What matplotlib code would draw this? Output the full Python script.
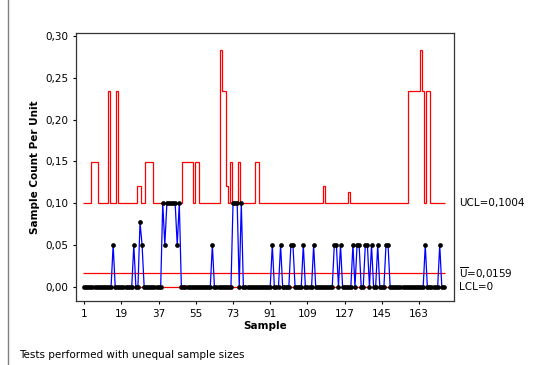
import numpy as np
import matplotlib.pyplot as plt
from matplotlib.lines import Line2D

# sample size (units inspected) for samples 1..175
sample_size = [
    20, 20, 20, 20, 8, 8, 8, 20, 20, 20, 20, 20, 3, 20, 20, 20, 3, 20, 20, 20, 20, 20, 20, 20, 20,
    20, 13, 13, 20, 20, 8, 8, 8, 8, 20, 20, 20, 20, 20, 20, 20, 20, 20, 20, 20, 20, 20, 20, 8, 8,
    8, 8, 8, 20, 8, 8, 20, 20, 20, 20, 20, 20, 20, 20, 20, 20, 2, 3, 3, 13, 20, 8, 20, 20, 20,
    8, 20, 20, 20, 20, 20, 20, 20, 8, 8, 20, 20, 20, 20, 20, 20, 20, 20, 20, 20, 20, 20, 20, 20, 20,
    20, 20, 20, 20, 20, 20, 20, 20, 20, 20, 20, 20, 20, 20, 20, 20, 13, 20, 20, 20, 20, 20, 20, 20, 20,
    20, 20, 20, 15, 20, 20, 20, 20, 20, 20, 20, 20, 20, 20, 20, 20, 20, 20, 20, 20, 20, 20, 20, 20, 20,
    20, 20, 20, 20, 20, 20, 20, 3, 3, 3, 3, 3, 3, 2, 3, 20, 3, 3, 20, 20, 20, 20, 20, 20, 20,
]

# defect counts for samples 1..175
defects = [
    0, 0, 0, 0, 0, 0, 0, 0, 0, 0, 0, 0, 0, 0, 1, 0, 0, 0, 0, 0, 0, 0, 0, 0, 1,
    0, 0, 1, 1, 0, 0, 0, 0, 0, 0, 0, 0, 0, 2, 1, 2, 2, 2, 2, 2, 1, 2, 0, 0, 0,
    0, 0, 0, 0, 0, 0, 0, 0, 0, 0, 0, 0, 1, 0, 0, 0, 0, 0, 0, 0, 0, 0, 2, 2, 2,
    0, 2, 0, 0, 0, 0, 0, 0, 0, 0, 0, 0, 0, 0, 0, 0, 1, 0, 0, 0, 1, 0, 0, 0, 0,
    1, 1, 0, 0, 0, 0, 1, 0, 0, 0, 0, 1, 0, 0, 0, 0, 0, 0, 0, 0, 0, 1, 1, 0, 1,
    0, 0, 0, 0, 0, 1, 0, 1, 1, 0, 0, 1, 1, 0, 1, 0, 0, 1, 0, 0, 0, 1, 1, 0, 0,
    0, 0, 0, 0, 0, 0, 0, 0, 0, 0, 0, 0, 0, 0, 0, 1, 0, 0, 0, 0, 0, 0, 1, 0, 0,
]

u_bar = 0.01587
x_ticks = [1, 19, 37, 55, 73, 91, 109, 127, 145, 163]
y_ticks = [0.00, 0.05, 0.10, 0.15, 0.20, 0.25, 0.30]

n = np.array(sample_size, dtype=float)
c = np.array(defects, dtype=float)
samples = np.arange(1, len(n) + 1)
u = c / n
ucl = u_bar + 3 * np.sqrt(u_bar / n)
lcl = np.clip(u_bar - 3 * np.sqrt(u_bar / n), 0, None)
edges = np.append(samples - 0.5, samples[-1] + 0.5)

plt.rcParams['font.family'] = ['DejaVu Sans']

fig = plt.figure(figsize=(5.44, 3.65), dpi=100)
ax = fig.add_axes([76 / 544, 1 - 301 / 365, (454 - 76) / 544, (301 - 32.5) / 365])

red = '#ff0000'
ax.stairs(ucl, edges, baseline=None, color=red, lw=0.9, zorder=2)
ax.stairs(lcl, edges, baseline=None, color=red, lw=0.9, zorder=2)
ax.hlines(u_bar, edges[0], edges[-1], color=red, lw=0.9, zorder=2)
ax.plot(samples, u, color='#0000ff', lw=0.9, zorder=3,
        marker='o', ms=3.4, mfc='black', mec='black', mew=0)

ax.set_xlim(-2.97, 179.9)
ax.set_ylim(-0.0171, 0.3044)
ax.set_xticks(x_ticks)
ax.set_yticks(y_ticks)
ax.set_yticklabels([f'{v:.2f}'.replace('.', ',') for v in y_ticks])
ax.tick_params(direction='out', length=2.5, width=0.8, labelsize=7.5, pad=3, colors='black')
for sp in ax.spines.values():
    sp.set_linewidth(0.9)
    sp.set_color('#333333')

ax.set_xlabel('Sample', fontsize=7.5, fontweight='bold', labelpad=2)
ax.set_ylabel('Sample Count Per Unit', fontsize=7.5, fontweight='bold', labelpad=4)

# limit labels to the right of the plot
trans = ax.get_yaxis_transform()
fmt = lambda v: f'{v:.4f}'.replace('.', ',')
ax.text(1.013, ucl.min(), f'UCL={fmt(ucl.min())}', transform=trans, fontsize=7.5, va='center', ha='left')
ax.text(1.013, u_bar, r'$\overline{\mathregular{U}}$' + f'={fmt(u_bar)}', transform=trans,
        fontsize=7.5, va='center', ha='left')
ax.text(1.013, lcl.max(), f'LCL={lcl.max():g}', transform=trans, fontsize=7.5, va='center', ha='left')

fig.text(19 / 544, 1 - 355 / 365, 'Tests performed with unequal sample sizes', fontsize=7.5, va='center')
fig.add_artist(Line2D([7.5 / 544, 7.5 / 544], [0, 1], transform=fig.transFigure, color='#808080', lw=1))

fig.savefig('out.png', dpi=100)
